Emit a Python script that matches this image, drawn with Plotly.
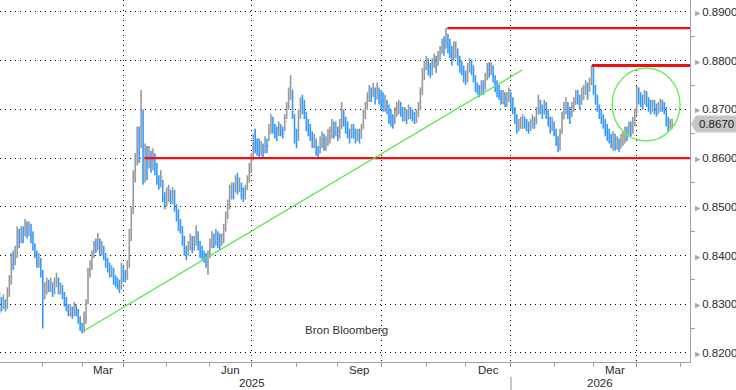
import pandas as pd
import plotly.graph_objects as go

# ---------------- data (EUR/GBP daily, in pips: 8300 = 0.8300) ----------------
start_date = "2025-01-02"
end_date = "2026-04-27"
first_open_pips = 8290

close_pips = [
    8300, 8295, 8305, 8295, 8320, 8350, 8395, 8385, 8400, 8440,
    8430, 8445, 8440, 8460, 8450, 8455, 8440, 8420, 8405, 8385,
    8390, 8365, 8320, 8330, 8345, 8335, 8340, 8325, 8345, 8350,
    8330, 8335, 8320, 8305, 8295, 8285, 8290, 8280, 8295, 8285,
    8270, 8255, 8245, 8275, 8305, 8370, 8375, 8400, 8420, 8415,
    8430, 8410, 8415, 8400, 8385, 8380, 8365, 8370, 8350, 8345,
    8340, 8335, 8375, 8355, 8355, 8380, 8440, 8490, 8560, 8590,
    8640, 8600, 8680, 8560, 8610, 8580, 8605, 8590, 8600, 8580,
    8555, 8545, 8560, 8525, 8505, 8520, 8530, 8515, 8525, 8500,
    8485, 8460, 8455, 8430, 8410, 8400, 8420, 8430, 8415, 8425,
    8445, 8420, 8405, 8400, 8395, 8385, 8395, 8420, 8435, 8425,
    8440, 8430, 8425, 8435, 8450, 8470, 8500, 8520, 8540, 8530,
    8550, 8535, 8545, 8530, 8520, 8535, 8550, 8575, 8600, 8630,
    8625, 8620, 8610, 8620, 8615, 8630, 8625, 8660, 8675, 8660,
    8650, 8650, 8660, 8655, 8650, 8675, 8700, 8730, 8740, 8690,
    8645, 8640, 8690, 8710, 8705, 8690, 8665, 8660, 8645, 8630,
    8635, 8615, 8610, 8630, 8640, 8625, 8630, 8645, 8650, 8665,
    8650, 8660, 8645, 8660, 8690, 8680, 8665, 8650, 8645, 8660,
    8650, 8640, 8645, 8640, 8660, 8685, 8700, 8720, 8735, 8730,
    8740, 8725, 8735, 8730, 8720, 8705, 8715, 8700, 8685, 8680,
    8670, 8690, 8700, 8705, 8695, 8685, 8690, 8680, 8695, 8690,
    8685, 8680, 8685, 8700, 8730, 8770, 8785, 8795, 8780, 8775,
    8790, 8800, 8790, 8805, 8815, 8830, 8825, 8840, 8835, 8820,
    8805, 8815, 8820, 8800, 8790, 8780, 8770, 8760, 8780, 8795,
    8790, 8765, 8745, 8740, 8735, 8745, 8740, 8765, 8780, 8775,
    8785, 8765, 8750, 8735, 8730, 8720, 8725, 8715, 8720, 8730,
    8715, 8700, 8680, 8660, 8665, 8670, 8675, 8670, 8665, 8660,
    8665, 8675, 8670, 8690, 8715, 8700, 8690, 8705, 8695, 8675,
    8660, 8670, 8655, 8635, 8620, 8650, 8680, 8700, 8705, 8690,
    8685, 8700, 8710, 8725, 8720, 8710, 8725, 8735, 8745, 8730,
    8750, 8770, 8745, 8725, 8705, 8690, 8680, 8670, 8660, 8645,
    8640, 8630, 8640, 8625, 8630, 8620, 8635, 8640, 8650, 8645,
    8660, 8655, 8670, 8685, 8735, 8725, 8715, 8710, 8725, 8720,
    8705, 8700, 8710, 8705, 8695, 8700, 8710, 8705, 8700, 8675,
    8665, 8670, 8670,
]
high_pips = [
    8325, 8315, 8320, 8310, 8335, 8360, 8405, 8410, 8420, 8460,
    8455, 8460, 8460, 8475, 8470, 8470, 8465, 8450, 8425, 8410,
    8405, 8395, 8370, 8345, 8355, 8350, 8355, 8345, 8355, 8365,
    8355, 8345, 8340, 8325, 8315, 8300, 8300, 8295, 8305, 8300,
    8290, 8275, 8262, 8285, 8310, 8375, 8390, 8410, 8430, 8435,
    8446, 8435, 8430, 8420, 8405, 8395, 8385, 8380, 8375, 8360,
    8355, 8350, 8385, 8380, 8370, 8390, 8455, 8500, 8575, 8610,
    8665, 8665, 8740, 8700, 8630, 8625, 8625, 8615, 8620, 8610,
    8590, 8565, 8575, 8555, 8530, 8540, 8545, 8535, 8540, 8535,
    8505, 8495, 8475, 8460, 8440, 8420, 8430, 8445, 8440, 8440,
    8462, 8450, 8430, 8420, 8410, 8405, 8410, 8435, 8450, 8445,
    8455, 8450, 8445, 8445, 8465, 8490, 8515, 8545, 8550, 8550,
    8565, 8570, 8560, 8550, 8540, 8545, 8565, 8590, 8610, 8650,
    8660, 8640, 8640, 8635, 8630, 8645, 8640, 8670, 8690, 8685,
    8670, 8665, 8675, 8670, 8665, 8690, 8715, 8745, 8770, 8740,
    8690, 8660, 8700, 8725, 8730, 8720, 8695, 8680, 8670, 8655,
    8650, 8640, 8625, 8645, 8655, 8650, 8645, 8660, 8665, 8680,
    8675, 8675, 8665, 8680, 8715, 8700, 8685, 8675, 8660, 8670,
    8670, 8660, 8660, 8660, 8670, 8700, 8715, 8735, 8750, 8745,
    8755, 8745, 8755, 8745, 8740, 8735, 8730, 8720, 8710, 8700,
    8690, 8705, 8715, 8720, 8715, 8705, 8705, 8700, 8710, 8705,
    8700, 8695, 8700, 8715, 8745, 8785, 8800, 8810, 8805, 8795,
    8805, 8815, 8810, 8820, 8830, 8845, 8850, 8867, 8855, 8845,
    8830, 8840, 8840, 8825, 8810, 8800, 8790, 8780, 8795, 8805,
    8802, 8790, 8770, 8755, 8750, 8760, 8760, 8775, 8795, 8797,
    8797, 8790, 8770, 8760, 8750, 8740, 8740, 8735, 8735, 8745,
    8735, 8725, 8705, 8690, 8680, 8685, 8690, 8685, 8680, 8675,
    8680, 8690, 8685, 8705, 8730, 8720, 8710, 8720, 8715, 8700,
    8685, 8685, 8675, 8660, 8645, 8660, 8695, 8715, 8725, 8715,
    8705, 8715, 8725, 8740, 8740, 8730, 8745, 8750, 8760, 8755,
    8765, 8791, 8790, 8750, 8730, 8710, 8700, 8690, 8680, 8670,
    8660, 8650, 8655, 8650, 8645, 8640, 8650, 8655, 8665, 8665,
    8675, 8675, 8685, 8700, 8748, 8745, 8735, 8730, 8740, 8738,
    8725, 8720, 8720, 8720, 8712, 8715, 8722, 8720, 8715, 8705,
    8685, 8680, 8680,
]
low_pips = [
    8280, 8285, 8290, 8285, 8290, 8315, 8340, 8370, 8380, 8395,
    8415, 8425, 8425, 8440, 8435, 8440, 8425, 8410, 8395, 8375,
    8375, 8355, 8250, 8310, 8320, 8325, 8325, 8315, 8320, 8335,
    8320, 8320, 8310, 8295, 8285, 8275, 8275, 8270, 8275, 8275,
    8260, 8245, 8240, 8242, 8260, 8300, 8355, 8370, 8395, 8405,
    8410, 8400, 8400, 8390, 8375, 8365, 8355, 8355, 8340, 8335,
    8330, 8323, 8330, 8345, 8345, 8350, 8375, 8430, 8485, 8550,
    8585, 8590, 8620, 8545, 8550, 8555, 8580, 8570, 8575, 8565,
    8545, 8535, 8540, 8510, 8495, 8500, 8510, 8505, 8505, 8490,
    8470, 8450, 8445, 8420, 8400, 8390, 8400, 8410, 8405, 8410,
    8420, 8410, 8395, 8390, 8385, 8375, 8360, 8395, 8415, 8415,
    8420, 8415, 8410, 8420, 8425, 8450, 8475, 8495, 8515, 8515,
    8530, 8525, 8530, 8515, 8510, 8515, 8535, 8550, 8570, 8595,
    8610, 8605, 8600, 8605, 8600, 8610, 8610, 8635, 8650, 8650,
    8640, 8635, 8645, 8645, 8640, 8655, 8680, 8700, 8720, 8680,
    8630, 8620, 8635, 8680, 8690, 8680, 8655, 8645, 8635, 8620,
    8620, 8605, 8600, 8610, 8620, 8615, 8615, 8625, 8630, 8640,
    8640, 8645, 8635, 8640, 8660, 8665, 8650, 8640, 8630, 8640,
    8640, 8630, 8635, 8630, 8640, 8660, 8680, 8700, 8715, 8715,
    8725, 8710, 8720, 8710, 8700, 8695, 8695, 8690, 8670, 8665,
    8660, 8670, 8685, 8690, 8685, 8675, 8675, 8670, 8680, 8680,
    8675, 8670, 8672, 8685, 8700, 8730, 8760, 8780, 8770, 8765,
    8770, 8785, 8775, 8790, 8800, 8815, 8810, 8825, 8815, 8805,
    8790, 8800, 8805, 8790, 8775, 8770, 8755, 8750, 8755, 8775,
    8770, 8755, 8735, 8730, 8725, 8730, 8730, 8740, 8760, 8765,
    8770, 8755, 8735, 8725, 8720, 8710, 8710, 8705, 8705, 8715,
    8700, 8690, 8670, 8650, 8655, 8660, 8660, 8660, 8655, 8650,
    8655, 8660, 8660, 8670, 8690, 8690, 8680, 8690, 8680, 8665,
    8650, 8655, 8645, 8625, 8612, 8615, 8650, 8680, 8690, 8680,
    8670, 8685, 8695, 8710, 8710, 8700, 8710, 8720, 8730, 8720,
    8735, 8750, 8730, 8710, 8695, 8680, 8670, 8660, 8645, 8635,
    8630, 8620, 8615, 8615, 8617, 8612, 8620, 8625, 8630, 8635,
    8645, 8645, 8650, 8665, 8690, 8710, 8705, 8700, 8710, 8705,
    8695, 8690, 8695, 8690, 8685, 8690, 8695, 8695, 8690, 8665,
    8655, 8660, 8660,
]

y_tickvals = [0.82, 0.83, 0.84, 0.85, 0.86, 0.87, 0.88, 0.89]
y_ticklabels = ["0.8200", "0.8300", "0.8400", "0.8500", "0.8600", "0.8700", "0.8800", "0.8900"]
y_minor_vals = [0.825, 0.835, 0.845, 0.855, 0.865, 0.875, 0.885]
last_price = 0.8670
last_price_label = "0.8670"

quarter_starts = ["2025-04-01", "2025-07-01", "2025-10-01", "2026-01-01", "2026-04-01"]
month_starts = ["2025-02-03", "2025-03-03", "2025-04-01", "2025-05-01", "2025-06-02",
                "2025-07-01", "2025-08-01", "2025-09-01", "2025-10-01", "2025-11-03",
                "2025-12-01", "2026-01-01", "2026-02-02", "2026-03-02", "2026-04-01",
                "2026-05-01"]
month_labels = ["Mar", "Jun", "Sep", "Dec", "Mar"]
month_label_pos = ["2025-03-17 12:00", "2025-06-16 12:00", "2025-09-16",
                   "2025-12-16 12:00", "2026-03-17"]
year_labels = ["2025", "2026"]

# analyst drawings
support_level, support_start = 0.8600, "2025-04-15 18:00"
top_level, top_start = 0.8867, "2025-11-17 16:00"
resist_level, resist_start = 0.8790, "2026-02-27 06:00"
trend_x = ["2025-03-03 19:00", "2026-01-08 19:00"]
trend_y = [0.8245, 0.8781]
circle_x = ["2026-03-13 12:00", "2026-05-01"]
circle_y = [0.8635, 0.8785]
source_text = "Bron Bloomberg"

# ---------------- build ----------------
dates = pd.bdate_range(start_date, end_date)
close = [c / 10000 for c in close_pips]
high = [h / 10000 for h in high_pips]
low = [l / 10000 for l in low_pips]
open_ = [first_open_pips / 10000] + close[:-1]

x_range = ["2025-01-02 06:00", "2026-05-08 02:00"]
y_range = [0.81813, 0.89246]

FONT = "Liberation Sans, Arial, sans-serif"
TXT = "#2a2a2a"
AXC = "#a0a0a0"
GRID = "#000000"

fig = go.Figure()
fig.add_trace(go.Ohlc(
    x=dates, open=open_, high=high, low=low, close=close,
    increasing=dict(line=dict(color="#999999", width=1.6)),
    decreasing=dict(line=dict(color="#3399ff", width=1.6)),
    hoverinfo="skip", showlegend=False,
))

tri = "<span style='color:#a8a8a8;font-size:9px'>\u25ba</span>"
fig.update_layout(
    width=736, height=390,
    margin=dict(l=0, r=46, t=0, b=28),
    paper_bgcolor="white", plot_bgcolor="white",
    font=dict(family=FONT, size=11.5, color=TXT),
    showlegend=False,
    xaxis=dict(
        type="date", range=x_range,
        rangebreaks=[dict(bounds=["sat", "mon"])],
        rangeslider=dict(visible=False),
        tickmode="array", tickvals=quarter_starts, ticktext=[""] * len(quarter_starts),
        ticks="outside", ticklen=4, tickcolor=AXC,
        showgrid=True, gridcolor=GRID, griddash="1px,4px", gridwidth=1,
        minor=dict(tickmode="array", tickvals=month_starts, ticks="outside",
                   ticklen=4, tickcolor=AXC, showgrid=False),
        showline=True, linecolor=AXC, linewidth=1, zeroline=False, fixedrange=True,
    ),
    yaxis=dict(
        side="right", range=y_range,
        tickmode="array", tickvals=y_tickvals,
        ticktext=[tri + t for t in y_ticklabels],
        ticks="", showgrid=True, gridcolor=GRID, griddash="1px,4px", gridwidth=1,
        minor=dict(tickmode="array", tickvals=y_minor_vals, ticks="outside",
                   ticklen=4, tickcolor=AXC, showgrid=False),
        showline=True, linecolor=AXC, linewidth=1, zeroline=False,
        tickfont=dict(size=11.5, color=TXT),
    ),
)

shapes = []
for lvl, st, w in [(support_level, support_start, 2.2),
                   (top_level, top_start, 2.2),
                   (resist_level, resist_start, 3)]:
    shapes.append(dict(type="line", xref="x", yref="y", x0=st, x1=x_range[1],
                       y0=lvl, y1=lvl, line=dict(color="#ee1111", width=w)))
shapes.append(dict(type="line", xref="x", yref="y", x0=trend_x[0], x1=trend_x[1],
                   y0=trend_y[0], y1=trend_y[1], line=dict(color="#55e84a", width=1.3)))
shapes.append(dict(type="circle", xref="x", yref="y", x0=circle_x[0], x1=circle_x[1],
                   y0=circle_y[0], y1=circle_y[1], line=dict(color="#66ee55", width=1.4)))
# year separator under axis
shapes.append(dict(type="line", xref="paper", yref="paper", x0=0.7406, x1=0.7406,
                   y0=-0.041, y1=-0.08, line=dict(color="#909090", width=1)))
# last price marker (arrow + box)
py = (last_price - y_range[0]) / (y_range[1] - y_range[0])
h = 8.5 / 362
px = 1 / 690
shapes.append(dict(type="path", xref="paper", yref="paper",
                   path=f"M {1 + 1*px},{py} L {1 + 6*px},{py + h} L {1 + 46*px},{py + h} "
                        f"L {1 + 46*px},{py - h} L {1 + 6*px},{py - h} Z",
                   fillcolor="#c6c6c6", line=dict(width=0)))
fig.update_layout(shapes=shapes)

ann = []
for lab, pos in zip(month_labels, month_label_pos):
    ann.append(dict(x=pos, y=-0.022, xref="x", yref="paper", text=lab, showarrow=False,
                    yanchor="middle", xanchor="center", font=dict(size=11.5, color=TXT)))
ann.append(dict(x=252 / 690, y=-0.058, xref="paper", yref="paper", text=year_labels[0],
                showarrow=False, yanchor="middle", xanchor="center", font=dict(size=11.5, color=TXT)))
ann.append(dict(x=600 / 690, y=-0.058, xref="paper", yref="paper", text=year_labels[1],
                showarrow=False, yanchor="middle", xanchor="center", font=dict(size=11.5, color=TXT)))
ann.append(dict(x=347 / 690, y=0.088, xref="paper", yref="paper", text=source_text,
                showarrow=False, xanchor="center", yanchor="middle",
                font=dict(size=11.5, color="#333333")))
ann.append(dict(x=1 + 7 * px, y=py, xref="paper", yref="paper", text=last_price_label,
                showarrow=False, xanchor="left", yanchor="middle",
                font=dict(size=11.5, color="#1a1a1a")))
fig.update_layout(annotations=ann)

fig.write_html("out.html")
